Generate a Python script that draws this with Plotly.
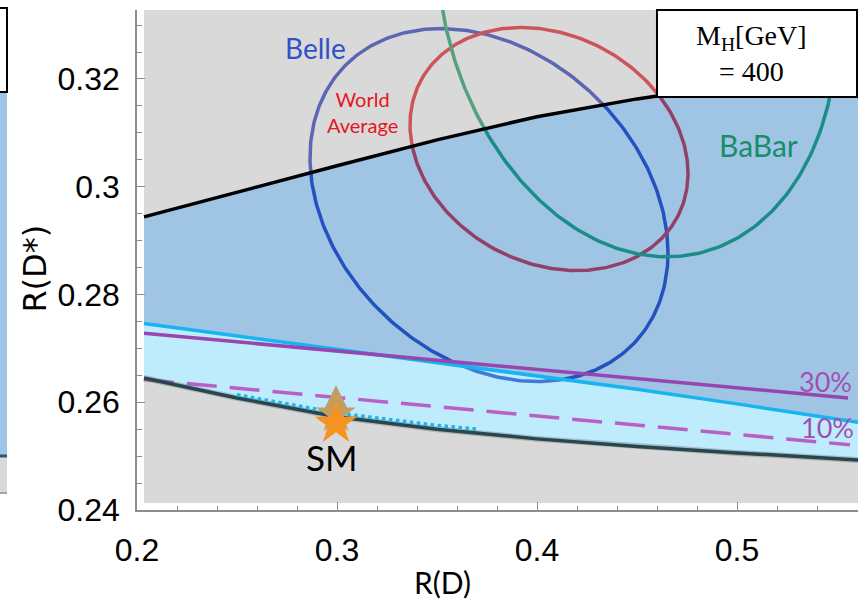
import numpy as np
import plotly.graph_objects as go

# Sampling grid in R(D) for the allowed-region boundaries
rd_grid = [0.2035, 0.25, 0.30, 0.35, 0.40, 0.45, 0.50, 0.5605]
upper_bound = [0.2944, 0.2990, 0.3039, 0.3087, 0.3130, 0.3163, 0.3190, 0.3218]
cyan_bound = [0.2746, 0.2723, 0.2699, 0.2675, 0.2650, 0.2624, 0.2597, 0.2563]
lower_bound = [0.2645, 0.2608, 0.2573, 0.2550, 0.2532, 0.2518, 0.2506, 0.2493]

# 30% and 10% branching-ratio contours
rd_30 = [0.2035, 0.25, 0.30, 0.35, 0.40, 0.45, 0.50, 0.5555]
rds_30 = [0.2728, 0.2712, 0.2695, 0.2678, 0.2661, 0.2644, 0.2627, 0.2608]
rd_10 = [0.2035, 0.25, 0.30, 0.35, 0.40, 0.45, 0.50, 0.5565]
rds_10 = [0.2642, 0.2626, 0.2609, 0.2592, 0.2575, 0.2558, 0.2541, 0.2521]

# dotted segment just above the lower edge
rd_dot = [0.25, 0.30, 0.35, 0.3705]
rds_dot = [0.2614, 0.2580, 0.2557, 0.2550]

# measurement ellipses
experiments = ["Belle", "World Average", "BaBar"]
rd_center = [0.376, 0.406, 0.450]
rds_center = [0.2966, 0.3070, 0.3370]
rd_halfwidth = [0.0895, 0.0695, 0.1000]
rds_halfheight = [0.03275, 0.02255, 0.0500]
correlation = [-0.27, -0.20, -0.15]
ellipse_colors = ["rgb(28,46,186)", "rgb(232,16,26)", "rgb(14,155,88)"]

# Standard Model point
sm_rd = [0.2995]
sm_rds = [0.2560]

x_ticks = [0.2, 0.3, 0.4, 0.5]
x_ticklabels = ["0.2", "0.3", "0.4", "0.5"]
y_ticks = [0.24, 0.26, 0.28, 0.30, 0.32]
y_ticklabels = ["0.24", "0.26", "0.28", "0.3", "0.32"]

X_RANGE = [0.2, 0.5605]
Y_RANGE = [0.24, 0.3328]
FRAME_X0, FRAME_X1 = 0.2035, 0.5605
FRAME_Y0, FRAME_Y1 = 0.2413, 0.3328

GRAY_FILL = "rgba(171,171,171,0.45)"
BLUE_FILL = "rgba(44,124,195,0.45)"
CYAN_FILL = "rgba(111,213,248,0.45)"

fig = go.Figure()

# ellipses go underneath the translucent regions
t = np.linspace(0, 2 * np.pi, 361)
for i, name in enumerate(experiments):
    a, b, r = rd_halfwidth[i], rds_halfheight[i], correlation[i]
    ex = rd_center[i] + a * np.cos(t)
    ey = rds_center[i] + b * (r * np.cos(t) + np.sqrt(1 - r * r) * np.sin(t))
    fig.add_trace(go.Scatter(x=ex, y=ey, mode="lines", name=name,
                             line=dict(color=ellipse_colors[i], width=3.5)))

# regions
fig.add_trace(go.Scatter(
    x=rd_grid + [FRAME_X1, FRAME_X0], y=upper_bound + [FRAME_Y1, FRAME_Y1],
    fill="toself", fillcolor=GRAY_FILL, mode="none"))
fig.add_trace(go.Scatter(
    x=rd_grid + rd_grid[::-1], y=upper_bound + cyan_bound[::-1],
    fill="toself", fillcolor=BLUE_FILL, mode="none"))
fig.add_trace(go.Scatter(
    x=rd_grid + rd_grid[::-1], y=cyan_bound + lower_bound[::-1],
    fill="toself", fillcolor=CYAN_FILL, mode="none"))
fig.add_trace(go.Scatter(
    x=rd_grid + [FRAME_X1, FRAME_X0], y=lower_bound + [FRAME_Y0, FRAME_Y0],
    fill="toself", fillcolor=GRAY_FILL, mode="none"))

# boundary curves
fig.add_trace(go.Scatter(x=rd_grid, y=upper_bound, mode="lines",
                         line=dict(color="black", width=3.5)))
fig.add_trace(go.Scatter(x=rd_grid, y=cyan_bound, mode="lines",
                         line=dict(color="rgb(22,180,240)", width=3.5)))
fig.add_trace(go.Scatter(x=rd_30, y=rds_30, mode="lines",
                         line=dict(color="rgb(150,70,175)", width=3.5)))
fig.add_trace(go.Scatter(x=rd_10, y=rds_10, mode="lines",
                         line=dict(color="rgb(185,95,200)", width=3.5,
                                   dash="30px,13px")))
fig.add_trace(go.Scatter(x=rd_grid, y=lower_bound, mode="lines",
                         line=dict(color="rgba(90,90,90,0.3)", width=6)))
fig.add_trace(go.Scatter(x=rd_grid, y=lower_bound, mode="lines",
                         line=dict(color="rgb(40,70,78)", width=3.5)))
fig.add_trace(go.Scatter(x=rd_dot, y=rds_dot, mode="lines",
                         line=dict(color="rgb(25,180,235)", width=3.5, dash="dot")))

# SM star
fig.add_trace(go.Scatter(x=sm_rd, y=[sm_rds[0] + 0.0030], mode="markers",
                         marker=dict(symbol="diamond-tall", size=32,
                                     color="rgb(196,158,92)", line=dict(width=0))))
fig.add_trace(go.Scatter(x=sm_rd, y=[sm_rds[0] + 0.0018], mode="markers",
                         marker=dict(symbol="star", size=30,
                                     color="rgb(196,158,92)", line=dict(width=0))))
fig.add_trace(go.Scatter(x=sm_rd, y=sm_rds, mode="markers",
                         marker=dict(symbol="star", size=32,
                                     color="rgb(247,146,30)", line=dict(width=0))))

label_font = "Lato, 'Open Sans', sans-serif"
annotations = [
    dict(x=0.289, y=0.3257, text="Belle", font=dict(family=label_font, size=28, color="rgb(50,80,200)")),
    dict(x=0.3128, y=0.3138, text="World<br>Average",
         font=dict(family=label_font, size=20, color="rgb(232,20,30)")),
    dict(x=0.5105, y=0.3077, text="BaBar", font=dict(family=label_font, size=30, color="rgb(25,140,110)")),
    dict(x=0.544, y=0.2639, text="30%", font=dict(family=label_font, size=27, color="rgb(160,80,180)")),
    dict(x=0.545, y=0.2554, text="10%", font=dict(family=label_font, size=27, color="rgb(160,80,180)")),
    dict(x=0.2975, y=0.2498, text="SM", font=dict(family=label_font, size=35, color="black")),
]
for ann in annotations:
    ann.update(xref="x", yref="y")

serif = "'Liberation Serif', 'DejaVu Serif', serif"
annotations += [
    dict(x=0.8516, y=0.912, xref="paper", yref="paper", text="M<sub>H</sub>[GeV]<br>= 400",
         font=dict(family=serif, size=28, color="black")),
    dict(x=-0.142, y=0.482, xref="paper", yref="paper", text="R(D*)", textangle=-90,
         font=dict(family="'DejaVu Sans', sans-serif", size=32, color="black")),
    dict(x=0.4244, y=-0.143, xref="paper", yref="paper", text="R(D)",
         font=dict(family=label_font, size=30, color="black")),
]
for ann in annotations:
    ann.update(showarrow=False, xanchor="center", yanchor="middle")

shapes = [
    # legend box with the Higgs mass
    dict(type="rect", xref="paper", yref="paper", x0=0.7212, x1=0.9986, y0=0.826, y1=1.0,
         fillcolor="white", line=dict(color="black", width=2), layer="above"),
    # edge of the neighbouring panel
    dict(type="rect", xref="paper", yref="paper", x0=-0.25, x1=-0.1803, y0=0.11, y1=0.836,
         fillcolor="rgb(160,196,228)", line=dict(width=0), layer="above"),
    dict(type="rect", xref="paper", yref="paper", x0=-0.25, x1=-0.1803, y0=0.034, y1=0.106,
         fillcolor="rgb(217,217,217)", line=dict(width=0), layer="above"),
    dict(type="line", xref="paper", yref="paper", x0=-0.25, x1=-0.1803, y0=0.108, y1=0.108,
         line=dict(color="rgb(50,85,110)", width=3), layer="above"),
    dict(type="line", xref="paper", yref="paper", x0=-0.25, x1=-0.1803, y0=0.034, y1=0.034,
         line=dict(color="rgb(140,140,140)", width=1.5), layer="above"),
    dict(type="rect", xref="paper", yref="paper", x0=-0.25, x1=-0.1803, y0=0.836, y1=1.004,
         fillcolor="white", line=dict(color="black", width=2), layer="above"),
]

tick_font = dict(family="'Liberation Sans', Arial, sans-serif", size=32, color="black")
axis_gray = "rgb(140,140,140)"

fig.update_layout(
    width=866, height=601,
    margin=dict(l=137, r=8, t=10, b=91),
    paper_bgcolor="white", plot_bgcolor="white",
    showlegend=False,
    annotations=annotations,
    shapes=shapes,
    xaxis=dict(range=X_RANGE, tickvals=x_ticks, ticktext=x_ticklabels,
               showline=True, linecolor=axis_gray, linewidth=1.5,
               ticks="inside", ticklen=8, tickwidth=1.3, tickcolor=axis_gray,
               minor=dict(ticks="inside", ticklen=4, tick0=0.2, dtick=0.02,
                          tickcolor=axis_gray, tickwidth=1.2),
               showgrid=False, zeroline=False, tickfont=tick_font,
               ticklabelstandoff=11),
    yaxis=dict(range=Y_RANGE, tickvals=y_ticks, ticktext=y_ticklabels,
               showline=True, linecolor=axis_gray, linewidth=1.5,
               ticks="inside", ticklen=8, tickwidth=1.3, tickcolor=axis_gray,
               minor=dict(ticks="inside", ticklen=5, tick0=0.24, dtick=0.005,
                          tickcolor=axis_gray, tickwidth=1.2),
               showgrid=False, zeroline=False, tickfont=tick_font,
               ticklabelstandoff=9),
)

fig.write_html("out.html")
